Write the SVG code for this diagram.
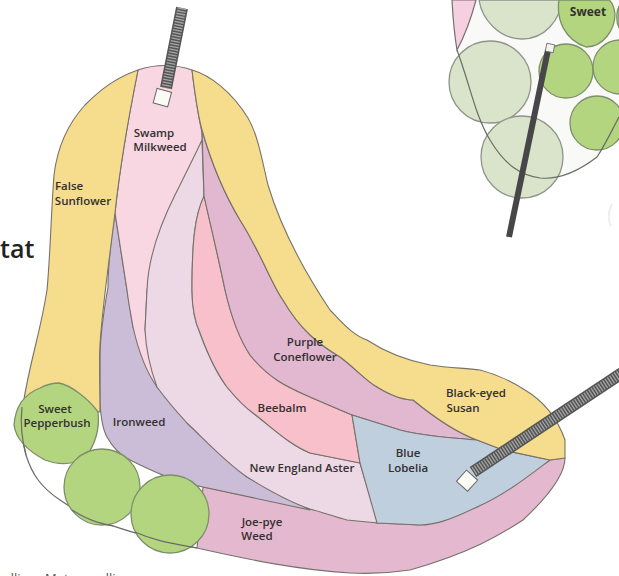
<svg xmlns="http://www.w3.org/2000/svg" width="619" height="576" viewBox="0 0 619 576">
<style>
.o{stroke:#77716a;stroke-width:1.1;stroke-linejoin:round}
.g{fill:#b3d57f;stroke:#7d8f6a;stroke-width:1.3}
.p{fill:#d9e4ca;stroke:#8f948a;stroke-width:1.3}
.l{fill:none;stroke:#6b6b66;stroke-width:1.2}
text{font-family:"Open Sans","Noto Sans",sans-serif;font-size:11.5px;font-weight:600;fill:#33302f;text-anchor:middle}
</style>
<rect width="619" height="576" fill="#fff"/>
<g id="inset">
<path d="M457 50C470 85 475 115 490 140C505 165 520 175 540 178C560 180 580 170 597 157C605 145 612 130 619 117V0H452Z" fill="#f9f9f7"/>
<path class="p" d="M479 0C482 20 500 39 522 39C545 39 560 20 562 0Z"/>
<circle class="p" cx="490" cy="82" r="41"/>
<circle class="p" cx="522" cy="157" r="41"/>
<path class="g" d="M559 0C556 20 565 40 586 47C603 47 615 30 615 14C614 6 612 2 609 0Z"/>
<circle class="g" cx="566" cy="71" r="27"/>
<circle class="g" cx="620" cy="67" r="27"/>
<circle class="g" cx="597" cy="123" r="27"/>
<path class="g" d="M619 6C616 12 616 22 619 28Z"/>
<path d="M452 0C453 20 455 38 457 50C465 35 472 15 476 0Z" fill="#f6cfe0" stroke="#77706f" stroke-width="1.2"/>
<path class="l" d="M457 50C470 85 475 115 490 140C505 165 520 175 540 178C560 180 580 170 597 157C605 145 612 130 619 117"/>
<path d="M548 50L509 237" stroke="#484648" stroke-width="6" fill="none"/>
<rect x="546" y="44" width="8" height="8" fill="#f4f4ee" stroke="#666" stroke-width="0.8" transform="rotate(12 550 48)"/>
<text x="588" y="16" style="font-size:12px;font-weight:700">Sweet</text>
<path d="M612 204C608 212 608 220 611 226" fill="none" stroke="#eeeeee" stroke-width="2"/>
</g>
<g id="bed">
<path id="joe-pye-weed" class="o" d="M203 487L310 509L377 523L420 525L477 507L550 460L565 458C565 470 555 490 523 520C500 535 470 553 410 570C390 573 370 574 350 573C300 570 250 560 197 548Z" fill="#e4b8ce"/>
<path id="ironweed" class="o" d="M115 213C111 240 108 265 108 287C104 310 100 335 100 357C100 380 100 395 100 403C101 420 103 430 107 437C113 448 120 455 130 460C150 470 175 482 203 487L310 510L247 477L187 423L157 387L133 327L127 290Z" fill="#cbbcd8"/>
<path id="milkweed" class="o" d="M138 70C155 64 175 64 192 70C195 95 198 115 202 133L204 195L175 195L155 250L147 290L145 330L157 387C145 370 137 345 133 327C130 310 128 300 127 290L115 213C120 165 130 110 138 70Z" fill="#f8d6e2"/>
<path id="aster" class="o" d="M202 140L204 197C195 215 192 240 192 290C192 310 195 322 200 333C208 355 218 375 227 387C240 403 246 408 253 413C275 430 290 445 310 453L360 463L378 523L347 520C335 517 322 512 310 509C290 502 268 490 247 477C225 462 205 440 187 423C175 410 165 398 157 387C150 368 146 350 145 330L147 290C148 260 160 225 175 195C185 175 195 155 202 140Z" fill="#ecd9e5"/>
<path id="beebalm" class="o" d="M204 196C214 240 220 265 225 290C232 320 240 340 250 355C270 380 290 388 310 397L352 415L360 463L310 453C290 445 275 430 253 413C246 408 240 403 227 387C218 375 208 355 200 333C195 322 192 310 192 290C192 240 195 215 204 196Z" fill="#f8c0cb"/>
<path id="coneflower" class="o" d="M202 130C212 165 225 195 240 220C262 255 272 285 283 300C300 330 320 345 340 357C355 368 365 380 377 387C395 398 405 400 413 400C435 418 455 432 477 440C440 437 420 435 400 430L352 415L310 397C290 388 270 380 250 355C240 340 232 320 225 290C220 265 214 240 204 196Z" fill="#e2b7d0"/>
<path id="lobelia" class="o" d="M352 415L400 430C420 435 440 437 477 440L503 450L550 460C530 475 505 495 477 507C450 520 435 525 420 525L377 523L360 463Z" fill="#c0cfde"/>
<path id="sunflower" class="o" d="M138 70C115 78 100 90 85 105C65 127 57 150 54 175C51 215 50 260 47 290C40 335 30 360 23 405L100 412C100 390 99 360 100 345C102 310 108 270 115 213C120 165 130 110 138 70Z" fill="#f6dd8e"/>
<path id="black-eyed-susan" class="o" d="M192 70C210 75 232 92 248 118C258 135 262 160 268 185C280 225 300 265 330 310C340 320 352 335 367 340C385 352 405 360 430 365C450 368 465 368 480 370C495 374 510 380 525 390C545 402 558 420 565 440C565 447 565 452 565 458L550 460L503 450L477 440C455 432 435 418 413 400C405 400 395 398 377 387C365 380 355 368 340 357C320 345 300 330 283 300C272 285 262 255 240 220C225 195 212 165 202 130C198 115 195 95 192 70Z" fill="#f6dd8e"/>
<path class="l" d="M22 407C20 425 22 440 26 455C32 475 42 488 60 500C85 518 125 533 197 548"/>
</g>
<g id="pepperbush"><path class="g" d="M59 383C70 385 88 398 98 412C100 430 95 445 85 458C72 465 58 465 45 460C30 452 16 440 14 425C15 410 22 395 40 388C46 385 53 383 59 383Z"/><path class="l" d="M22 407C20 425 22 440 26 455"/></g>
<g id="shrub-2"><circle class="g" cx="102" cy="487" r="38"/><path class="l" d="M72 510C88 520 98 523 113 526"/></g>
<g id="shrub-3"><circle class="g" cx="170" cy="514" r="39"/><path class="l" d="M135 532C155 541 170 543 197 548"/></g>
<g id="connectors">
<path d="M182 8L166 88" stroke="#555" stroke-width="12" fill="none"/>
<path d="M182 8L166 88" stroke="#a5a5a5" stroke-width="9" stroke-dasharray="1.3 1.5" fill="none"/>
<rect x="155" y="90" width="15" height="15" fill="#fbfbf6" stroke="#666" transform="rotate(15 162 97)"/>
<path d="M622 373L473 472" stroke="#555" stroke-width="12" fill="none"/>
<path d="M622 373L473 472" stroke="#a5a5a5" stroke-width="9" stroke-dasharray="1.3 1.5" fill="none"/>
<rect x="460" y="473" width="15" height="15" fill="#fbfbf6" stroke="#666" transform="rotate(42 467 480)"/>
</g>
<g id="labels">
<text x="154" y="137">Swamp</text><text x="160" y="151">Milkweed</text>
<text x="69" y="190">False</text><text x="83" y="205">Sunflower</text>
<text x="55" y="413">Sweet</text><text x="57" y="427">Pepperbush</text>
<text x="139" y="426">Ironweed</text>
<text x="305" y="346">Purple</text><text x="305" y="361">Coneflower</text>
<text x="282" y="412">Beebalm</text>
<text x="302" y="472">New England Aster</text>
<text x="476" y="397">Black-eyed</text><text x="463" y="412">Susan</text>
<text x="408" y="457">Blue</text><text x="408" y="472">Lobelia</text>
<text x="262" y="526">Joe-pye</text><text x="257" y="540">Weed</text>
<text x="0" y="258" style="font-size:25px;font-weight:600;text-anchor:start;fill:#222">tat</text>
<text y="583" style="font-size:13px;font-weight:400;text-anchor:start;fill:#555"><tspan x="6">dlia</tspan><tspan x="45">Meta</tspan><tspan x="101">dlia</tspan></text>
</g>
</svg>
